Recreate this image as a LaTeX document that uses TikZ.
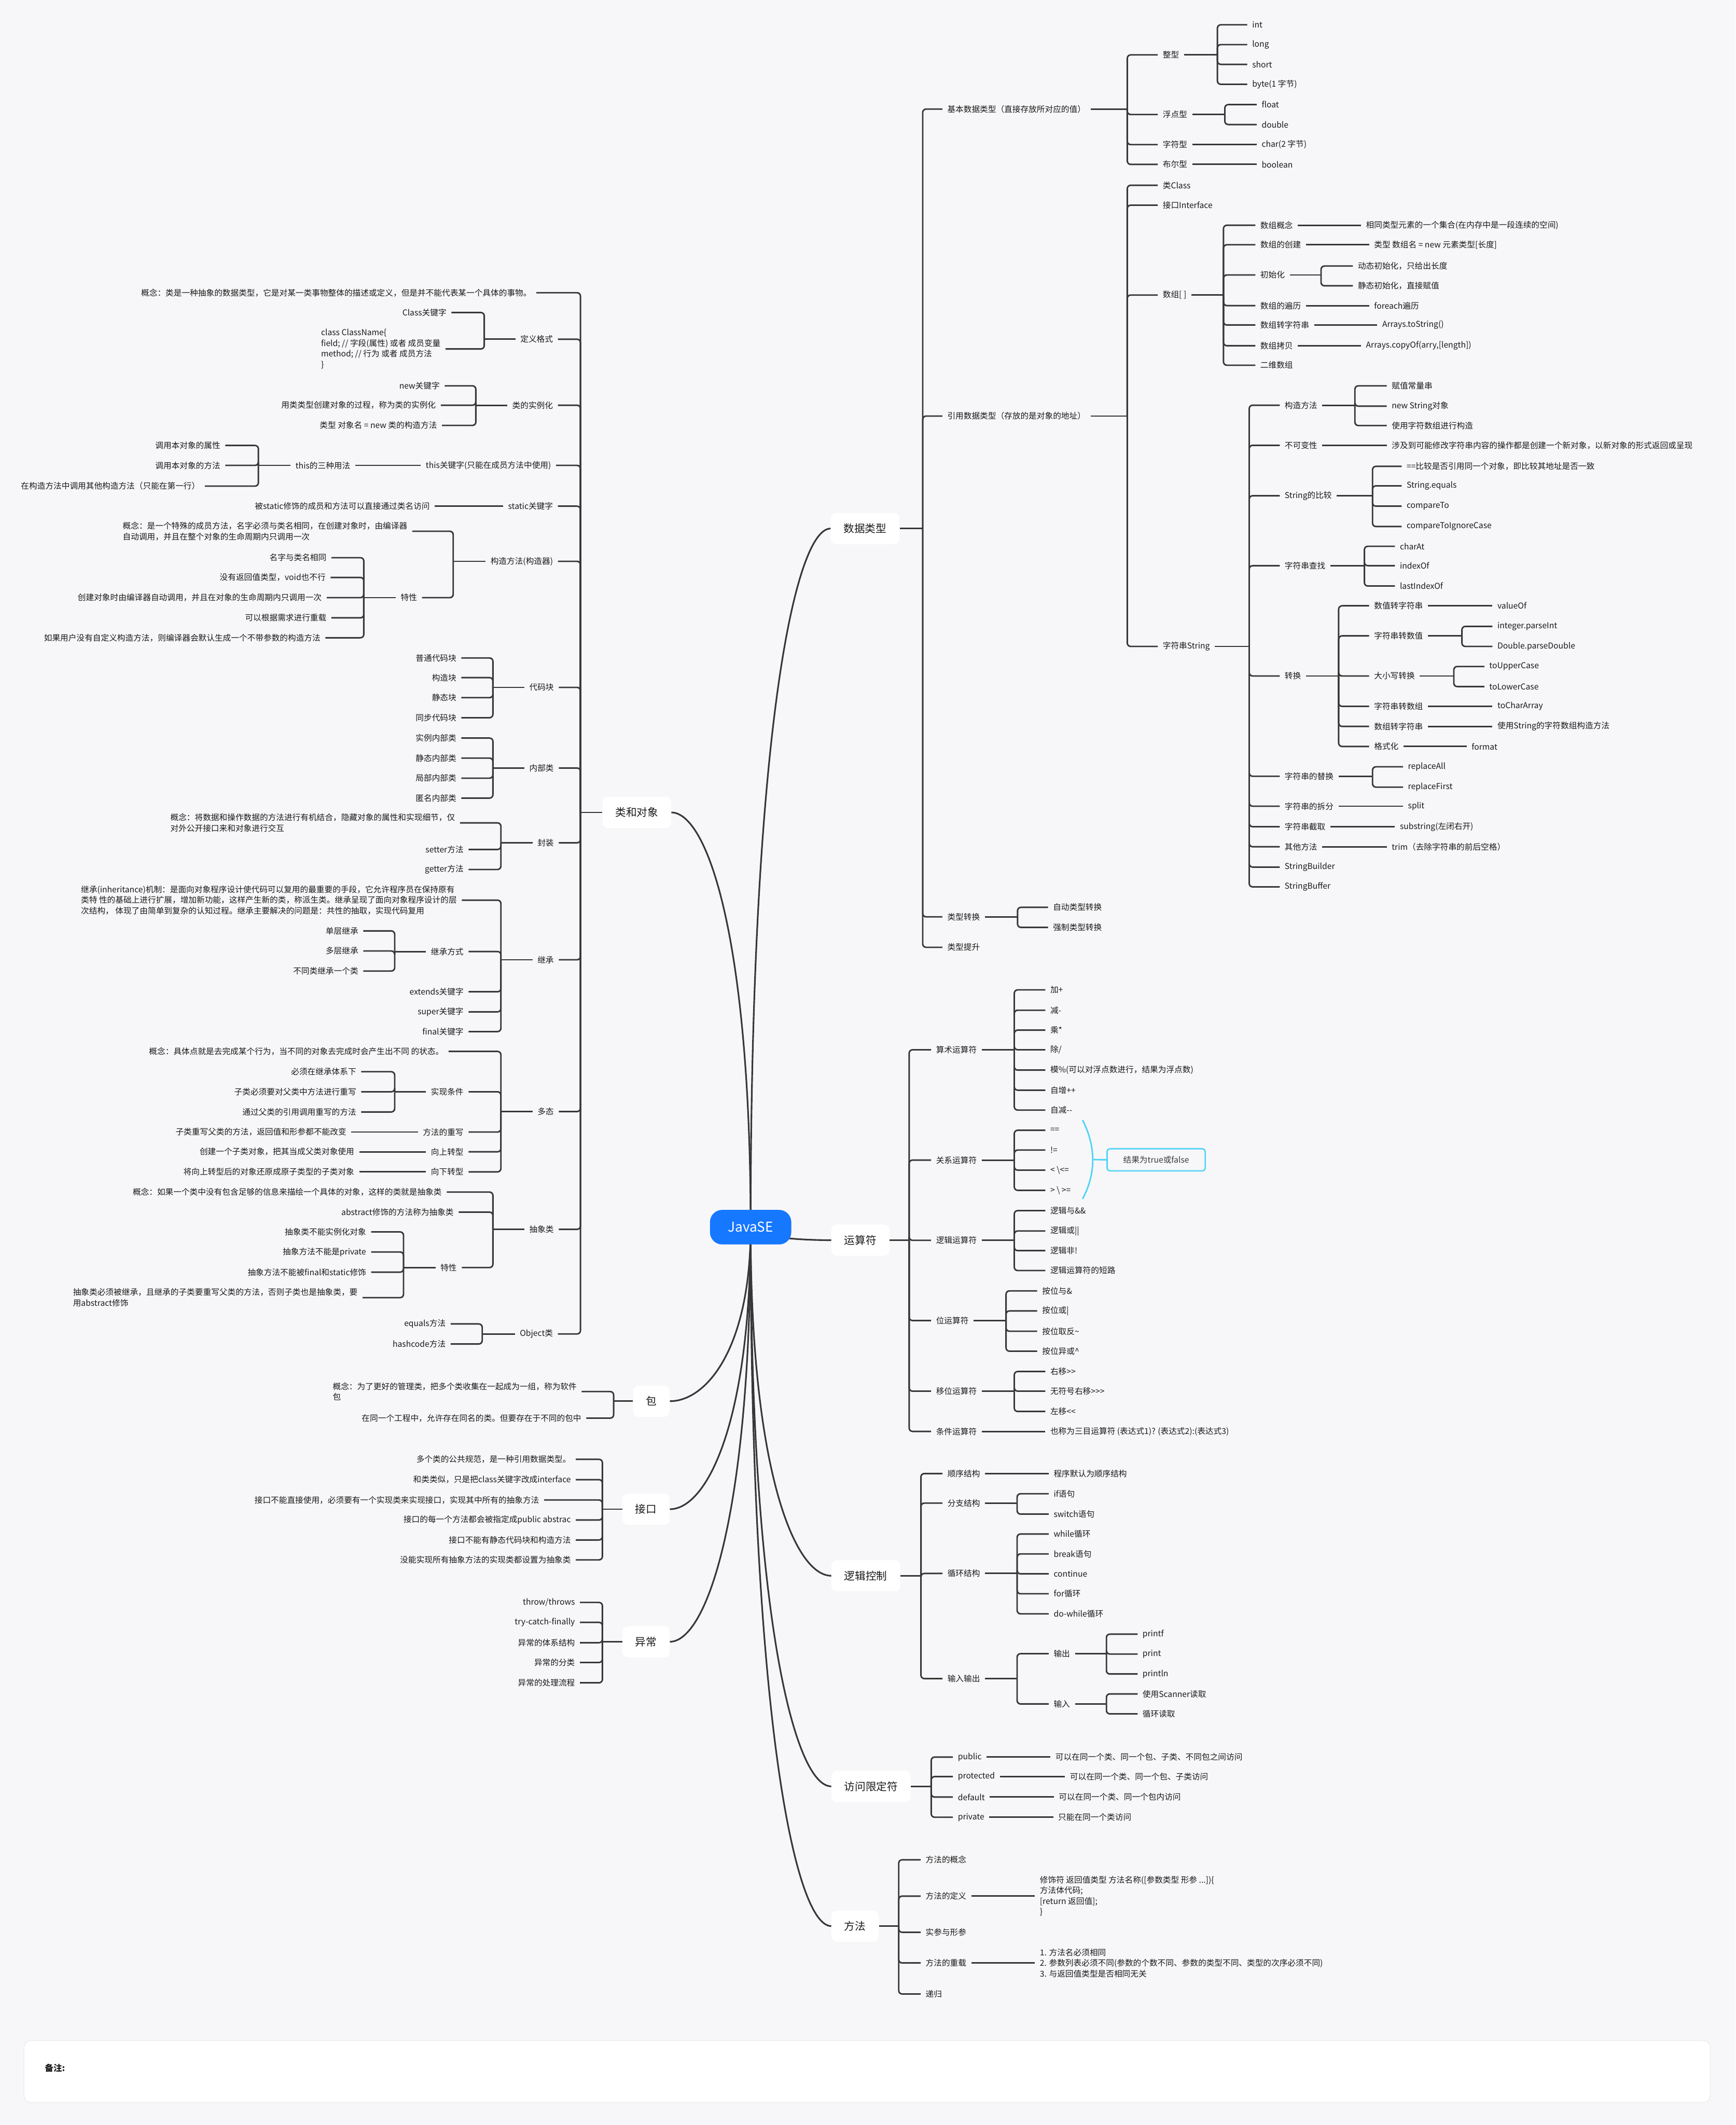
\documentclass[tikz,border=0pt]{standalone}
\usepackage{fontspec}
\setmainfont{Noto Sans CJK SC}
\usetikzlibrary{calc}
\definecolor{bgc}{RGB}{247,247,249}
\definecolor{linec}{RGB}{55,55,55}
\definecolor{txtc}{RGB}{25,25,25}
\definecolor{jblue}{RGB}{22,119,255}
\definecolor{cyanc}{RGB}{80,212,245}
\newcommand{\mmfs}{\fontsize{6}{7.85}\selectfont}
\newcommand{\mmfb}{\fontsize{7.9}{9}\selectfont}
\newcommand{\mmR}[3]{%
  \path (#2,0) coordinate (mmtmp);
  \draw[ln] (#1.east) -- (#1.east -| mmtmp) coordinate (#1j);
  \foreach \ch in {#3} {\draw[ln] (#1j) |- (\ch.west);}
}
\newcommand{\mmL}[3]{%
  \path (#2,0) coordinate (mmtmp);
  \draw[ln] (#1.west) -- (#1.west -| mmtmp) coordinate (#1j);
  \foreach \ch in {#3} {\draw[ln] (#1j) |- (\ch.east);}
}
\pgfdeclarelayer{back}
\pgfdeclarelayer{curves}
\pgfsetlayers{back,curves,main}
\tikzset{
  every node/.style={font=\mmfs, text=txtc, inner xsep=3.5pt, inner ysep=0.6pt},
  R/.style={anchor=west},
  L/.style={anchor=east},
  RL/.style={anchor=west, align=left},
  topic/.style={fill=white, rounded corners=4pt, font=\mmfb, inner xsep=9.5pt, inner ysep=0pt, minimum height=23pt},
  ln/.style={draw=linec, line width=1.1pt, rounded corners=2.5pt},
  cv/.style={draw=linec, line width=1.2pt},
}
\begin{document}
\begin{tikzpicture}[x=1pt,y=-1pt]
\begin{pgfonlayer}{back}
\fill[bgc] (0,0) rectangle (1281,1568);
\fill[black!6, rounded corners=5.5pt] (17.3,1505.3) rectangle (1262.7,1551.7);
\fill[white, rounded corners=5pt] (18,1506) rectangle (1262,1551);
\end{pgfonlayer}
\useasboundingbox (0,0) rectangle (1281,1568);
\node[anchor=west, font=\bfseries\fontsize{6.3}{7}\selectfont] (note) at (29.5,1526) {备注:};

% root
\node[fill=jblue, text=white, rounded corners=9pt, minimum width=60pt, minimum height=25.5pt, inner sep=0pt, font=\fontsize{10}{12}\selectfont] (root) at (554,905.5) {JavaSE};

% ================= 数据类型 =================
\node[topic,anchor=west] (T1) at (613,390) {数据类型};
\node[R] (a1) at (695.5,80.5) {基本数据类型（直接存放所对应的值）};
\node[R] (a2) at (695.5,307) {引用数据类型（存放的是对象的地址）};
\node[R] (a3) at (695.5,676.5) {类型转换};
\node[R] (a4) at (695.5,699) {类型提升};
\mmR{T1}{681}{a1,a2,a3,a4}

\node[R] (a11) at (854.5,40.5) {整型};
\node[R] (a12) at (854.5,84.5) {浮点型};
\node[R] (a13) at (854.5,106.7) {字符型};
\node[R] (a14) at (854.5,121.3) {布尔型};
\mmR{a1}{832}{a11,a12,a13,a14}
\node[R] (a111) at (920.5,18.3) {int};
\node[R] (a112) at (920.5,32.9) {long};
\node[R] (a113) at (920.5,47.5) {short};
\node[R] (a114) at (920.5,62.2) {byte(1 字节)};
\mmR{a11}{898.5}{a111,a112,a113,a114}
\node[R] (a121) at (927.5,77.2) {float};
\node[R] (a122) at (927.5,91.9) {double};
\mmR{a12}{904}{a121,a122}
\node[R] (a131) at (927.5,106.7) {char(2 字节)};
\draw[ln] (a13.east) -- (a131.west);
\node[R] (a141) at (927.5,121.3) {boolean};
\draw[ln] (a14.east) -- (a141.west);

\node[R] (a21) at (854.5,136.7) {类Class};
\node[R] (a22) at (854.5,151.4) {接口Interface};
\node[R] (a23) at (854.5,217.7) {数组[ ]};
\node[R] (a24) at (854.5,477) {字符串String};
\mmR{a2}{832}{a21,a22,a23,a24}

\node[R] (b1) at (926.5,166.2) {数组概念};
\node[R] (b2) at (926.5,180.6) {数组的创建};
\node[R] (b3) at (926.5,202.9) {初始化};
\node[R] (b4) at (926.5,225.5) {数组的遍历};
\node[R] (b5) at (926.5,239.8) {数组转字符串};
\node[R] (b6) at (926.5,255.1) {数组拷贝};
\node[R] (b7) at (926.5,269.5) {二维数组};
\mmR{a23}{903}{b1,b2,b3,b4,b5,b6,b7}
\node[R] (b1x) at (1004.5,166.2) {相同类型元素的一个集合(在内存中是一段连续的空间)};
\draw[ln] (b1.east) -- (b1x.west);
\node[R] (b2x) at (1010.5,180.6) {类型 数组名 = new 元素类型[长度]};
\draw[ln] (b2.east) -- (b2x.west);
\node[R] (b31) at (998.5,196.3) {动态初始化，只给出长度};
\node[R] (b32) at (998.5,210.9) {静态初始化，直接赋值};
\mmR{b3}{975}{b31,b32}
\node[R] (b4x) at (1010.5,225.5) {foreach遍历};
\draw[ln] (b4.east) -- (b4x.west);
\node[R] (b5x) at (1016.5,239.8) {Arrays.toString()};
\draw[ln] (b5.east) -- (b5x.west);
\node[R] (b6x) at (1004.5,255.1) {Arrays.copyOf(arry,[length])};
\draw[ln] (b6.east) -- (b6x.west);

\node[R] (s1) at (944.5,299) {构造方法};
\node[R] (s2) at (944.5,328.6) {不可变性};
\node[R] (s3) at (944.5,365.8) {String的比较};
\node[R] (s4) at (944.5,417.4) {字符串查找};
\node[R] (s5) at (944.5,498.8) {转换};
\node[R] (s6) at (944.5,572.8) {字符串的替换};
\node[R] (s7) at (944.5,594.9) {字符串的拆分};
\node[R] (s8) at (944.5,610) {字符串截取};
\node[R] (s9) at (944.5,624.8) {其他方法};
\node[R] (s10) at (944.5,639.8) {StringBuilder};
\node[R] (s11) at (944.5,654.4) {StringBuffer};
\mmR{a24}{922}{s1,s2,s3,s4,s5,s6,s7,s8,s9,s10,s11}
\node[R] (s1a) at (1023.5,284.7) {赋值常量串};
\node[R] (s1b) at (1023.5,299.7) {new String对象};
\node[R] (s1c) at (1023.5,314) {使用字符数组进行构造};
\mmR{s1}{1000}{s1a,s1b,s1c}
\node[R] (s2x) at (1023.5,328.6) {涉及到可能修改字符串内容的操作都是创建一个新对象，以新对象的形式返回或呈现};
\draw[ln] (s2.east) -- (s2x.west);
\node[R] (s3a) at (1034.5,344.1) {==比较是否引用同一个对象，即比较其地址是否一致};
\node[R] (s3b) at (1034.5,358.5) {String.equals};
\node[R] (s3c) at (1034.5,373.5) {compareTo};
\node[R] (s3d) at (1034.5,388.5) {compareToIgnoreCase};
\mmR{s3}{1013}{s3a,s3b,s3c,s3d}
\node[R] (s4a) at (1029.5,403.1) {charAt};
\node[R] (s4b) at (1029.5,417.4) {indexOf};
\node[R] (s4c) at (1029.5,432.4) {lastIndexOf};
\mmR{s4}{1007}{s4a,s4b,s4c}
\node[R] (s51) at (1010.5,447) {数值转字符串};
\node[R] (s52) at (1010.5,469.2) {字符串转数值};
\node[R] (s53) at (1010.5,498.8) {大小写转换};
\node[R] (s54) at (1010.5,521.2) {字符串转数组};
\node[R] (s55) at (1010.5,536) {数组转字符串};
\node[R] (s56) at (1010.5,550.8) {格式化};
\mmR{s5}{988}{s51,s52,s53,s54,s55,s56}
\node[R] (s51x) at (1101.5,447) {valueOf};
\draw[ln] (s51.east) -- (s51x.west);
\node[R] (s521) at (1101.5,462.2) {integer.parseInt};
\node[R] (s522) at (1101.5,477) {Double.parseDouble};
\mmR{s52}{1079}{s521,s522}
\node[R] (s531) at (1095.5,491.8) {toUpperCase};
\node[R] (s532) at (1095.5,506.6) {toLowerCase};
\mmR{s53}{1073}{s531,s532}
\node[R] (s54x) at (1101.5,521.2) {toCharArray};
\draw[ln] (s54.east) -- (s54x.west);
\node[R] (s55x) at (1101.5,536) {使用String的字符数组构造方法};
\draw[ln] (s55.east) -- (s55x.west);
\node[R] (s56x) at (1082.5,550.8) {format};
\draw[ln] (s56.east) -- (s56x.west);
\node[R] (s61) at (1035.5,565.8) {replaceAll};
\node[R] (s62) at (1035.5,580.8) {replaceFirst};
\mmR{s6}{1013}{s61,s62}
\node[R] (s7x) at (1035.5,594.9) {split};
\draw[ln] (s7.east) -- (s7x.west);
\node[R] (s8x) at (1029.5,610) {substring(左闭右开)};
\draw[ln] (s8.east) -- (s8x.west);
\node[R] (s9x) at (1023.5,624.8) {trim（去除字符串的前后空格）};
\draw[ln] (s9.east) -- (s9x.west);

\node[R] (a31) at (773.5,669.5) {自动类型转换};
\node[R] (a32) at (773.5,684.3) {强制类型转换};
\mmR{a3}{751}{a31,a32}

% ================= 运算符 =================
\node[topic,anchor=west] (T2) at (613.5,915.1) {运算符};
\node[R] (o1) at (687.2,774.6) {算术运算符};
\node[R] (o2) at (687.2,856) {关系运算符};
\node[R] (o3) at (687.2,915.2) {逻辑运算符};
\node[R] (o4) at (687.2,974.4) {位运算符};
\node[R] (o5) at (687.2,1026.5) {移位运算符};
\node[R] (o6) at (687.2,1056.2) {条件运算符};
\mmR{T2}{671}{o1,o2,o3,o4,o5,o6}
\node[R] (o11) at (771.5,730.4) {加+};
\node[R] (o12) at (771.5,745.4) {减-};
\node[R] (o13) at (771.5,760.1) {乘*};
\node[R] (o14) at (771.5,774.6) {除/};
\node[R] (o15) at (771.5,789.6) {模\%(可以对浮点数进行，结果为浮点数)};
\node[R] (o16) at (771.5,804.4) {自增++};
\node[R] (o17) at (771.5,819.1) {自减-{}-};
\mmR{o1}{748.6}{o11,o12,o13,o14,o15,o16,o17}
\node[R] (o21) at (771.5,834) {==};
\node[R] (o22) at (771.5,848.6) {!=};
\node[R] (o23) at (771.5,863.4) {< \textbackslash<=};
\node[R] (o24) at (771.5,878.3) {> \textbackslash{} >=};
\mmR{o2}{748.6}{o21,o22,o23,o24}
\node[R] (o31) at (771.5,893.3) {逻辑与\&\&};
\node[R] (o32) at (771.5,908.3) {逻辑或||};
\node[R] (o33) at (771.5,922.8) {逻辑非!};
\node[R] (o34) at (771.5,937.5) {逻辑运算符的短路};
\mmR{o3}{748.6}{o31,o32,o33,o34}
\node[R] (o41) at (765.5,952.5) {按位与\&};
\node[R] (o42) at (765.5,967.3) {按位或|};
\node[R] (o43) at (765.5,982.3) {按位取反\textasciitilde};
\node[R] (o44) at (765.5,997) {按位异或\textasciicircum};
\mmR{o4}{742.5}{o41,o42,o43,o44}
\node[R] (o51) at (771.5,1012) {右移>{}>};
\node[R] (o52) at (771.5,1026.5) {无符号右移>{}>{}>};
\node[R] (o53) at (771.5,1041.5) {左移<{}<};
\mmR{o5}{748.6}{o51,o52,o53}
\node[R] (o6x) at (771.5,1056.2) {也称为三目运算符 (表达式1)? (表达式2):(表达式3)};
\draw[ln] (o6.east) -- (o6x.west);
% summary bracket
\coordinate (sumA) at (799,826.5);
\coordinate (sumB) at (799,884.6);
\coordinate (sumtip) at (806.5,855.6);
\draw[cyanc, line width=1.1pt] (sumA) .. controls (809,846) and (809,866) .. (sumB);
\node[draw=cyanc, line width=1pt, rounded corners=2pt, anchor=west, minimum width=72.4pt, minimum height=16.3pt, text=txtc!85] (sumbox) at (816.6,855.8) {结果为true或false};
\draw[cyanc, line width=1.1pt] (sumtip) -- (sumbox.west);

% ================= 逻辑控制 =================
\node[topic,anchor=west] (T3) at (613.5,1162.7) {逻辑控制};
\node[R] (l1) at (695.6,1087.3) {顺序结构};
\node[R] (l2) at (695.6,1109.1) {分支结构};
\node[R] (l3) at (695.6,1161) {循环结构};
\node[R] (l4) at (695.6,1238.6) {输入输出};
\mmR{T3}{679.7}{l1,l2,l3,l4}
\node[R] (l1x) at (774,1087.3) {程序默认为顺序结构};
\draw[ln] (l1.east) -- (l1x.west);
\node[R] (l21) at (774,1102.2) {if语句};
\node[R] (l22) at (774,1117.2) {switch语句};
\mmR{l2}{750.7}{l21,l22}
\node[R] (l31) at (774,1131.9) {while循环};
\node[R] (l32) at (774,1146.6) {break语句};
\node[R] (l33) at (774,1161.3) {continue};
\node[R] (l34) at (774,1176) {for循环};
\node[R] (l35) at (774,1190.8) {do-while循环};
\mmR{l3}{750.7}{l31,l32,l33,l34,l35}
\node[R] (l41) at (774,1220.2) {输出};
\node[R] (l42) at (774,1257.3) {输入};
\mmR{l4}{750.7}{l41,l42}
\node[R] (l411) at (839.6,1205.8) {printf};
\node[R] (l412) at (839.6,1220.5) {print};
\node[R] (l413) at (839.6,1235.2) {println};
\mmR{l41}{816.6}{l411,l412,l413}
\node[R] (l421) at (839.6,1249.9) {使用Scanner读取};
\node[R] (l422) at (839.6,1264.6) {循环读取};
\mmR{l42}{816.6}{l421,l422}

% ================= 访问限定符 =================
\node[topic,anchor=west] (T4) at (613.5,1318.1) {访问限定符};
\node[R] (p1) at (703.3,1296.5) {public};
\node[R] (p2) at (703.3,1310.9) {protected};
\node[R] (p3) at (703.3,1326) {default};
\node[R] (p4) at (703.3,1340.9) {private};
\mmR{T4}{687.3}{p1,p2,p3,p4}
\node[R] (p1x) at (775.3,1296.5) {可以在同一个类、同一个包、子类、不同包之间访问};
\draw[ln] (p1.east) -- (p1x.west);
\node[R] (p2x) at (786,1310.9) {可以在同一个类、同一个包、子类访问};
\draw[ln] (p2.east) -- (p2x.west);
\node[R] (p3x) at (777.8,1326) {可以在同一个类、同一个包内访问};
\draw[ln] (p3.east) -- (p3x.west);
\node[R] (p4x) at (777.3,1340.9) {只能在同一个类访问};
\draw[ln] (p4.east) -- (p4x.west);

% ================= 方法 =================
\node[topic,anchor=west] (T5) at (613.5,1421.2) {方法};
\node[R] (m1) at (679.5,1372.3) {方法的概念};
\node[R] (m2) at (679.5,1399.1) {方法的定义};
\node[R] (m3) at (679.5,1425.8) {实参与形参};
\node[R] (m4) at (679.5,1448.4) {方法的重载};
\node[R] (m5) at (679.5,1471.3) {递归};
\mmR{T5}{663.3}{m1,m2,m3,m4,m5}
\node[RL] (m2x) at (763.8,1399.1) {修饰符 返回值类型 方法名称([参数类型 形参 ...])\{\\方法体代码;\\{}[return 返回值];\\\}};
\draw[ln] (m2.east) -- (m2x.west);
\node[RL] (m4x) at (763.8,1448.4) {1. 方法名必须相同\\2. 参数列表必须不同(参数的个数不同、参数的类型不同、类型的次序必须不同)\\3. 与返回值类型是否相同无关};
\draw[ln] (m4.east) -- (m4x.west);

% ================= 类和对象 =================
\node[topic,anchor=east] (T6) at (495.5,599.5) {类和对象};
\node[R] (c1) at (100.5,216) {概念：类是一种抽象的数据类型，它是对某一类事物整体的描述或定义，但是并不能代表某一个具体的事物。};
\node[L] (c2) at (411.8,250.3) {定义格式};
\node[L] (c3) at (411.8,299) {类的实例化};
\node[L] (c4) at (410.4,343.4) {this关键字(只能在成员方法中使用)};
\node[L] (c5) at (411.8,373.5) {static关键字};
\node[L] (c6) at (411.8,414.2) {构造方法(构造器)};
\node[L] (c7) at (412.4,507.2) {代码块};
\node[L] (c8) at (412.4,566.7) {内部类};
\node[L] (c9) at (412.4,621.9) {封装};
\node[L] (c10) at (412.4,708.2) {继承};
\node[L] (c11) at (412.4,820.2) {多态};
\node[L] (c12) at (412.4,907.1) {抽象类};
\node[L] (c13) at (411.8,984.3) {Object类};
\mmL{T6}{428.4}{c1,c2,c3,c4,c5,c6,c7,c8,c9,c10,c11,c12,c13}

\node[L] (c21) at (333.2,230.6) {Class关键字};
\node[RL] (c22) at (233.3,257.5) {class ClassName\{\\field; // 字段(属性) 或者 成员变量\\method; // 行为 或者 成员方法\\\}};
\mmL{c2}{357.4}{c21,c22}
\node[L] (c31) at (328.2,284.7) {new关键字};
\node[L] (c32) at (325.3,299) {用类类型创建对象的过程，称为类的实例化};
\node[L] (c33) at (326.2,313.9) {类型 对象名 = new 类的构造方法};
\mmL{c3}{351.2}{c31,c32,c33}
\node[L] (c41) at (262.2,343.4) {this的三种用法};
\draw[ln] (c4.west) -- (c41.east);
\node[L] (c411) at (166.3,328.7) {调用本对象的属性};
\node[L] (c412) at (166.3,343.4) {调用本对象的方法};
\node[R] (c413) at (11.8,358.7) {在构造方法中调用其他构造方法（只能在第一行）};
\mmL{c41}{190.7}{c411,c412,c413}
\node[L] (c51) at (320.9,373.5) {被static修饰的成员和方法可以直接通过类名访问};
\draw[ln] (c5.west) -- (c51.east);
\node[RL] (c61) at (86.9,392) {概念：是一个特殊的成员方法，名字必须与类名相同，在创建对象时，由编译器\\自动调用，并且在整个对象的生命周期内只调用一次};
\node[L] (c62) at (311.5,441) {特性};
\mmL{c6}{334.5}{c61,c62}
\node[L] (c621) at (244.6,411.5) {名字与类名相同};
\node[L] (c622) at (244,426.1) {没有返回值类型，void也不行};
\node[L] (c623) at (241.1,441) {创建对象时由编译器自动调用，并且在对象的生命周期内只调用一次};
\node[L] (c624) at (244.6,455.9) {可以根据需求进行重载};
\node[L] (c625) at (240.2,470.6) {如果用户没有自定义构造方法，则编译器会默认生成一个不带参数的构造方法};
\mmL{c62}{268.5}{c621,c622,c623,c624,c625}
\node[L] (c71) at (340.5,485.5) {普通代码块};
\node[L] (c72) at (340.5,500) {构造块};
\node[L] (c73) at (340.5,514.8) {静态块};
\node[L] (c74) at (340.5,529.6) {同步代码块};
\mmL{c7}{363.8}{c71,c72,c73,c74}
\node[L] (c81) at (340.5,544.6) {实例内部类};
\node[L] (c82) at (340.5,559.4) {静态内部类};
\node[L] (c83) at (340.5,574.2) {局部内部类};
\node[L] (c84) at (340.5,588.9) {匿名内部类};
\mmL{c8}{363.8}{c81,c82,c83,c84}
\node[RL] (c91) at (122.1,607.2) {概念：将数据和操作数据的方法进行有机结合，隐藏对象的属性和实现细节，仅\\对外公开接口来和对象进行交互};
\node[L] (c92) at (345.8,626.8) {setter方法};
\node[L] (c93) at (345.8,641.6) {getter方法};
\mmL{c9}{369.7}{c91,c92,c93}
\node[RL] (c101) at (56.1,664.2) {继承(inheritance)机制：是面向对象程序设计使代码可以复用的最重要的手段，它允许程序员在保持原有\\类特 性的基础上进行扩展，增加新功能，这样产生新的类，称派生类。继承呈现了面向对象程序设计的层\\次结构， 体现了由简单到复杂的认知过程。继承主要解决的问题是：共性的抽取，实现代码复用};
\node[L] (c102) at (345.8,702.1) {继承方式};
\node[L] (c103) at (345.8,731.8) {extends关键字};
\node[L] (c104) at (345.8,746.6) {super关键字};
\node[L] (c105) at (345.8,761.2) {final关键字};
\mmL{c10}{369.7}{c101,c102,c103,c104,c105}
\node[L] (c1021) at (268.1,686.9) {单层继承};
\node[L] (c1022) at (268.1,701.7) {多层继承};
\node[L] (c1023) at (268.1,716.5) {不同类继承一个类};
\mmL{c102}{291.3}{c1021,c1022,c1023}
\node[L] (c111) at (331.1,775.8) {概念：具体点就是去完成某个行为，当不同的对象去完成时会产生出不同 的状态。};
\node[L] (c112) at (345.8,805.6) {实现条件};
\node[L] (c113) at (345.8,835.3) {方法的重写};
\node[L] (c114) at (345.8,849.9) {向上转型};
\node[L] (c115) at (345.8,864.7) {向下转型};
\mmL{c11}{369.7}{c111,c112,c113,c114,c115}
\node[L] (c1121) at (266.6,790.8) {必须在继承体系下};
\node[L] (c1122) at (266.6,805.6) {子类必须要对父类中方法进行重写};
\node[L] (c1123) at (266.6,820.5) {通过父类的引用调用重写的方法};
\mmL{c112}{291.3}{c1121,c1122,c1123}
\node[L] (c1131) at (259.3,835.3) {子类重写父类的方法，返回值和形参都不能改变};
\draw[ln] (c113.west) -- (c1131.east);
\node[L] (c1141) at (265.1,849.9) {创建一个子类对象，把其当成父类对象使用};
\draw[ln] (c114.west) -- (c1141.east);
\node[L] (c1151) at (265.1,864.7) {将向上转型后的对象还原成原子类型的子类对象};
\draw[ln] (c115.west) -- (c1151.east);
\node[L] (c121) at (329.7,879.6) {概念：如果一个类中没有包含足够的信息来描绘一个具体的对象，这样的类就是抽象类};
\node[L] (c122) at (338.5,894.4) {abstract修饰的方法称为抽象类};
\node[L] (c123) at (340.8,935.3) {特性};
\mmL{c12}{363.8}{c121,c122,c123}
\node[L] (c1231) at (273.9,909) {抽象类不能实例化对象};
\node[L] (c1232) at (273.9,923.8) {抽象方法不能是private};
\node[L] (c1233) at (273.9,938.7) {抽象方法不能被final和static修饰};
\node[RL] (c1234) at (50.2,957.5) {抽象类必须被继承，且继承的子类要重写父类的方法，否则子类也是抽象类，要\\用abstract修饰};
\mmL{c123}{297.8}{c1231,c1232,c1233,c1234}
\node[L] (c131) at (332.6,976.9) {equals方法};
\node[L] (c132) at (332.6,991.7) {hashcode方法};
\mmL{c13}{355.9}{c131,c132}

% ================= 包 =================
\node[topic,anchor=east] (T7) at (494.4,1033.9) {包};
\node[RL] (k1) at (241.9,1026.8) {概念：为了更好的管理类，把多个类收集在一起成为一组，称为软件\\包};
\node[L] (k2) at (432.7,1046.4) {在同一个工程中，允许存在同名的类。但要存在于不同的包中};
\mmL{T7}{452.9}{k1,k2}

% ================= 接口 =================
\node[topic,anchor=east] (T8) at (494.4,1113.6) {接口};
\node[L] (i1) at (425,1076.8) {多个类的公共规范，是一种引用数据类型。};
\node[L] (i2) at (425,1091.8) {和类类似，只是把class关键字改成interface};
\node[R] (i3) at (184.2,1106.8) {接口不能直接使用，必须要有一个实现类来实现接口，实现其中所有的抽象方法};
\node[L] (i4) at (425,1121.6) {接口的每一个方法都会被指定成public abstrac};
\node[L] (i5) at (425,1136.3) {接口不能有静态代码块和构造方法};
\node[L] (i6) at (425,1151) {没能实现所有抽象方法的实现类都设置为抽象类};
\mmL{T8}{444.6}{i1,i2,i3,i4,i5,i6}

% ================= 异常 =================
\node[topic,anchor=east] (T9) at (494.4,1211.4) {异常};
\node[L] (e1) at (428,1182.4) {throw/throws};
\node[L] (e2) at (428,1197.1) {try-catch-finally};
\node[L] (e3) at (428,1212.1) {异常的体系结构};
\node[L] (e4) at (428,1226.7) {异常的分类};
\node[L] (e5) at (428,1241.7) {异常的处理流程};
\mmL{T9}{444.6}{e1,e2,e3,e4,e5}

% ================= main curves =================
\begin{pgfonlayer}{curves}
\draw[cv] (root.center) .. controls (554,544.6) and (586.4,390) .. (T1.west);
\draw[cv] (root.center) .. controls (554,912.2) and (586.7,915.1) .. (T2.west);
\draw[cv] (root.center) .. controls (554,1085.5) and (586.7,1162.7) .. (T3.west);
\draw[cv] (root.center) .. controls (554,1194.3) and (586.7,1318.1) .. (T4.west);
\draw[cv] (root.center) .. controls (554,1266.5) and (586.7,1421.2) .. (T5.west);
\draw[cv] (root.center) .. controls (554,691.3) and (521.8,599.5) .. (T6.east);
\draw[cv] (root.center) .. controls (554,995.4) and (521.2,1033.9) .. (T7.east);
\draw[cv] (root.center) .. controls (554,1051.2) and (521.2,1113.6) .. (T8.east);
\draw[cv] (root.center) .. controls (554,1119.6) and (521.2,1211.4) .. (T9.east);
\end{pgfonlayer}
\end{tikzpicture}
\end{document}
